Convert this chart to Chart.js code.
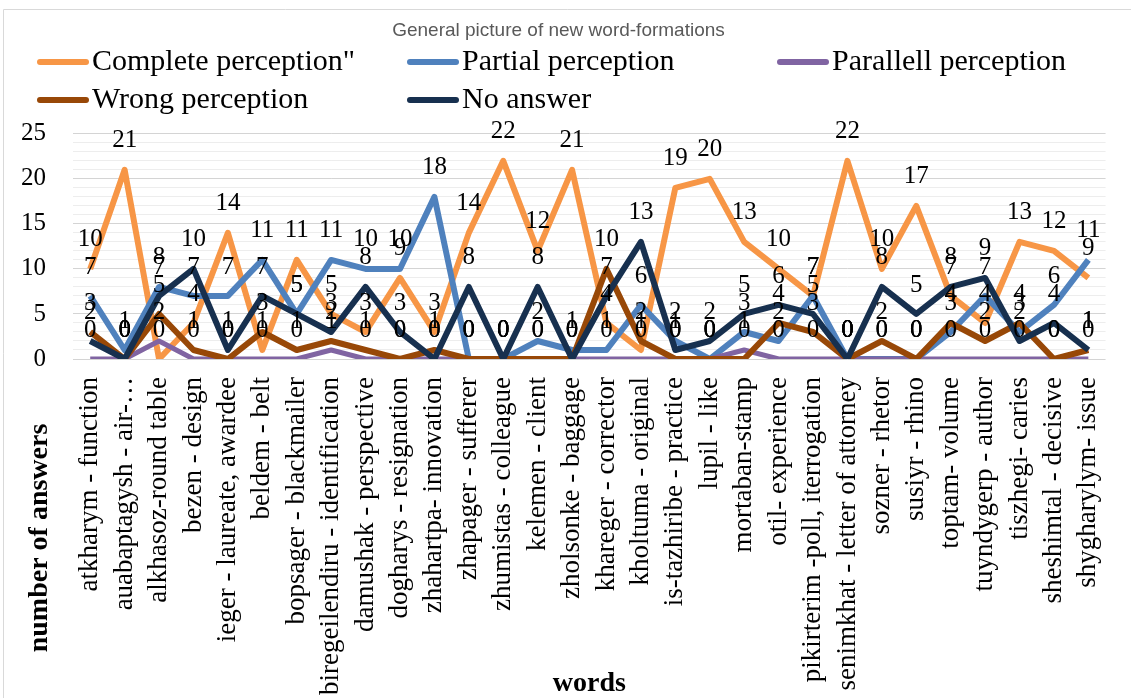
<!DOCTYPE html>
<html>
<head>
<meta charset="utf-8">
<script src="https://cdn.jsdelivr.net/npm/chart.js@4.4.1/dist/chart.umd.min.js"></script>
<style>
  html, body { margin: 0; padding: 0; background: #fff; }
  #wrap { width: 1131px; height: 698px; position: relative; }
</style>
</head>
<body>
<div id="wrap"><canvas id="chart"></canvas></div>
<script>
// Categories (words)
const words = [
  "atkharym - function", "auabaptagysh - air-…", "alkhasoz-round table", "bezen - design",
  "ieger - laureate, awardee", "beldem - belt", "bopsager - blackmailer",
  "biregeilendiru - identification", "damushak - perspective", "dogharys - resignation",
  "zhahartpa- innovation", "zhapager - sufferer", "zhumistas - colleague", "kelemen - client",
  "zholsonke - baggage", "khareger - corrector", "kholtuma - original", "is-tazhiribe - practice",
  "lupil - like", "mortaban-stamp", "otil- experience", "pikirterim -poll, iterrogation",
  "senimkhat - letter of attorney", "sozner - rhetor", "susiyr - rhino", "toptam- volume",
  "tuyndygerp - author", "tiszhegi- caries", "sheshimtal - decisive", "shygharylym- issue"
];

// Series values
const complete = [10, 21, 0, 4, 14, 1, 11, 5, 3, 9, 3, 14, 22, 12, 21, 4, 1, 19, 20, 13, 10, 7, 22, 10, 17, 7, 4, 13, 12, 9];
const partial  = [7, 1, 8, 7, 7, 11, 5, 11, 10, 10, 18, 0, 0, 2, 1, 1, 6, 2, 0, 3, 2, 7, 0, 0, 0, 3, 7, 3, 6, 11];
const parallel = [0, 0, 2, 0, 0, 0, 0, 1, 0, 0, 0, 0, 0, 0, 0, 0, 0, 0, 0, 1, 0, 0, 0, 0, 0, 0, 0, 0, 0, 0];
const wrong    = [3, 0, 5, 1, 0, 3, 1, 2, 1, 0, 1, 0, 0, 0, 0, 10, 2, 0, 0, 0, 4, 3, 0, 2, 0, 4, 2, 4, 0, 1];
const noAnswer = [2, 0, 7, 10, 1, 7, 5, 3, 8, 3, 0, 8, 0, 8, 0, 7, 13, 1, 2, 5, 6, 5, 0, 8, 5, 8, 9, 2, 4, 1];

const seriesNames = ['Complete perception"', "Partial perception", "Parallell perception", "Wrong perception", "No answer"];
const yTicks = [0, 5, 10, 15, 20, 25];

const serif = "'Liberation Serif', 'Times New Roman', serif";
const colors = ["#F79646", "#4F81BD", "#8064A2", "#984807", "#17304F"];

// value labels above every point
const pointLabels = {
  id: "pointLabels",
  afterDatasetsDraw(chart) {
    const ctx = chart.ctx;
    ctx.save();
    ctx.font = "25px " + serif;
    ctx.fillStyle = "#000";
    ctx.textAlign = "center";
    ctx.textBaseline = "middle";
    chart.data.datasets.forEach((ds, i) => {
      chart.getDatasetMeta(i).data.forEach((pt, j) => {
        ctx.fillText(ds.data[j], pt.x, pt.y - 29);
      });
    });
    ctx.restore();
  }
};

// legend in columns, like the excel one
const gridLegend = {
  id: "gridLegend",
  afterDraw(chart) {
    const ctx = chart.ctx;
    const cols = [40, 410, 780], rows = [62, 100];
    ctx.save();
    ctx.font = "30px " + serif;
    ctx.textBaseline = "middle";
    ctx.lineWidth = 6;
    ctx.lineCap = "round";
    chart.data.datasets.forEach((ds, i) => {
      const x = cols[i % 3], y = rows[Math.floor(i / 3)];
      ctx.strokeStyle = ds.borderColor;
      ctx.beginPath();
      ctx.moveTo(x, y);
      ctx.lineTo(x + 46, y);
      ctx.stroke();
      ctx.fillStyle = "#000";
      ctx.fillText(ds.label, x + 52, y);
    });
    ctx.restore();
  }
};

// y title sits low on the left, plus the outer frame
const extras = {
  id: "extras",
  afterDraw(chart) {
    const ctx = chart.ctx;
    ctx.save();
    ctx.strokeStyle = "#d9d9d9";
    ctx.lineWidth = 1;
    ctx.beginPath();
    ctx.moveTo(3.5, 698);
    ctx.lineTo(3.5, 9.5);
    ctx.lineTo(1131, 9.5);
    ctx.stroke();
    ctx.translate(40, 538);
    ctx.rotate(-Math.PI / 2);
    ctx.font = "bold 28px " + serif;
    ctx.fillStyle = "#000";
    ctx.textAlign = "center";
    ctx.textBaseline = "middle";
    ctx.fillText("number of answers", 0, 0);
    ctx.restore();
  }
};

const allSeries = [complete, partial, parallel, wrong, noAnswer];

new Chart(document.getElementById("chart"), {
  type: "line",
  data: {
    labels: words,
    datasets: allSeries.map((vals, i) => ({
      label: seriesNames[i],
      data: vals,
      borderColor: colors[i],
      backgroundColor: colors[i],
      borderWidth: i === 2 ? 5 : 6,
      pointRadius: 0,
      tension: 0,
      borderJoinStyle: "round",
      order: 5 - i
    }))
  },
  options: {
    responsive: true,
    maintainAspectRatio: false,
    animation: false,
    layout: { padding: { left: 0, right: 14, top: 0, bottom: 0 } },
    plugins: {
      legend: { display: false },
      tooltip: { enabled: false },
      title: {
        display: true,
        text: "General picture of new word-formations",
        color: "#595959",
        font: { family: "'Liberation Sans', Arial, sans-serif", size: 19, weight: "normal" },
        padding: { top: 19, bottom: 92 }
      }
    },
    scales: {
      x: {
        type: "category",
        offset: true,
        grid: { display: false },
        border: { display: false },
        ticks: {
          autoSkip: false,
          maxRotation: 90,
          minRotation: 90,
          padding: 10,
          color: "#000",
          font: { family: serif, size: 27 }
        },
        title: {
          display: true,
          text: "words",
          color: "#000",
          font: { family: serif, size: 28, weight: "bold", lineHeight: 1 },
          padding: 0
        },
        afterFit(scale) { scale.height = 339; }
      },
      y: {
        min: 0,
        max: 25,
        border: { display: false },
        grid: {
          drawTicks: false,
          color: c => (c.tick && yTicks.includes(c.tick.value)) ? "#d4d4d4" : "#ededed"
        },
        ticks: {
          stepSize: 1,
          autoSkip: false,
          padding: 27,
          color: "#000",
          font: { family: serif, size: 25 },
          callback: v => yTicks.includes(v) ? v : ""
        },
        afterFit(scale) { scale.width = 73; }
      }
    }
  },
  plugins: [pointLabels, gridLegend, extras]
});
</script>
</body>
</html>
